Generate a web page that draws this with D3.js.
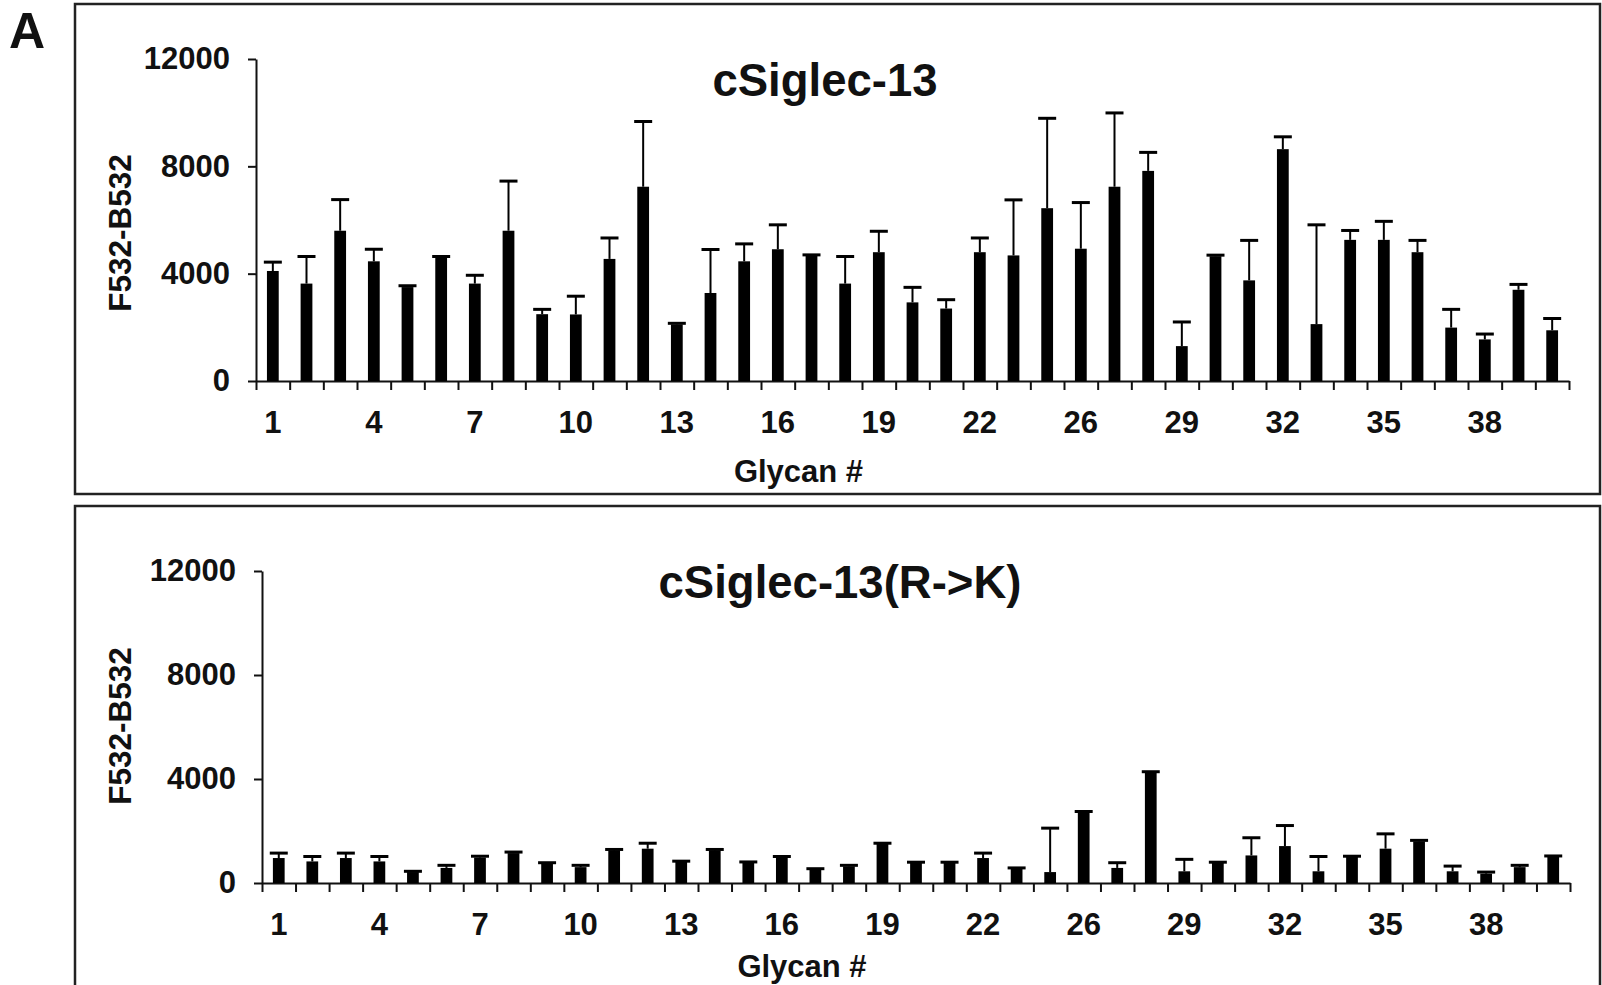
<!DOCTYPE html>
<meta charset="utf-8">
<style>
body { margin: 0; background: #fff; }
text { font-family: "Liberation Sans", Arial, Helvetica, sans-serif; font-weight: bold; fill: #111; }
.frame { fill: none; stroke: #222; stroke-width: 2.5; }
.axis path, .axis line { stroke: #111; stroke-width: 2; }
.axis text { font-size: 31px; }
.bar { fill: #000; }
.err { stroke: #000; stroke-width: 2; }
.cap { stroke: #000; stroke-width: 3; }
</style>
<body>
<script src="https://cdn.jsdelivr.net/npm/d3@7"></script>
<script>

var width = 1602,
    height = 985;

// glycan numbers on the array (no #25 on the slide)
var glycans = [1, 2, 3, 4, 5, 6, 7, 8, 9, 10, 11, 12, 13, 14, 15, 16, 17, 18, 19, 20,
               21, 22, 23, 24, 26, 27, 28, 29, 30, 31, 32, 33, 34, 35, 36, 37, 38, 39, 40];

var xTickLabels = [1, 4, 7, 10, 13, 16, 19, 22, 26, 29, 32, 35, 38];
var yTicks = [0, 4000, 8000, 12000];

// cSiglec-13 : mean and SD
var wtMean = [4100, 3630, 5600, 4460, 3500, 4590, 3630, 5600, 2490, 2480,
              4550, 7240, 2110, 3280, 4460, 4910, 4680, 3630, 4800, 2930,
              2700, 4800, 4680, 6440, 4930, 7240, 7830, 1300, 4650, 3750,
              8640, 2120, 5260, 5260, 4800, 1990, 1550, 3400, 1890];
var wtSD   = [330, 1010, 1160, 450, 50, 50, 310, 1850, 180, 680,
              780, 2430, 40, 1620, 650, 910, 20, 1010, 780, 560,
              330, 530, 2070, 3350, 1720, 2750, 690, 900, 40, 1490,
              460, 3700, 350, 690, 440, 680, 200, 200, 440];

// cSiglec-13(R->K) : mean and SD
var rkMean = [960, 830, 960, 830, 420, 580, 980, 1150, 740, 610,
              1250, 1320, 830, 1250, 800, 1000, 520, 640, 1500, 780,
              780, 960, 550, 420, 2710, 580, 4250, 450, 780, 1060,
              1420, 450, 1020, 1320, 1600, 450, 360, 610, 1020];
var rkSD   = [190, 190, 190, 190, 30, 100, 50, 40, 40, 70,
              40, 210, 10, 40, 10, 20, 30, 40, 30, 20,
              20, 190, 30, 1690, 40, 200, 30, 460, 20, 680,
              790, 570, 10, 570, 40, 200, 60, 70, 20];

var svg = d3.select("body").append("svg")
    .attr("width", width)
    .attr("height", height);

svg.append("text")
    .attr("x", 9)
    .attr("y", 48)
    .style("font-size", "50px")
    .text("A");

var panels = [
    { title: "cSiglec-13", mean: wtMean, sd: wtSD,
      box: [75, 4, 1600, 494], x0: 256, x1: 1569, yTop: 59, yZero: 381,
      titleX: 825, titleY: 96, xlabY: 482, yTitleX: 131, yTitleY: 233 },
    { title: "cSiglec-13(R->K)", mean: rkMean, sd: rkSD,
      box: [75, 506, 1600, 1010], x0: 262, x1: 1570, yTop: 571, yZero: 883,
      titleX: 840, titleY: 598, xlabY: 977, yTitleX: 131, yTitleY: 726 }
];

panels.forEach(function(p) {
    var g = svg.append("g");

    g.append("rect")
        .attr("class", "frame")
        .attr("x", p.box[0])
        .attr("y", p.box[1])
        .attr("width", p.box[2] - p.box[0])
        .attr("height", p.box[3] - p.box[1]);

    var x = d3.scaleBand()
        .domain(glycans)
        .range([p.x0, p.x1])
        .paddingInner(0.65)
        .paddingOuter(0.325);

    // ticks sit between the bars
    var xEdge = d3.scaleLinear()
        .domain([0, glycans.length])
        .range([p.x0, p.x1]);

    var y = d3.scaleLinear()
        .domain([0, 12000])
        .range([p.yZero, p.yTop]);

    g.append("g")
        .attr("class", "axis")
        .attr("transform", "translate(" + p.x0 + ",0)")
        .call(d3.axisLeft(y).tickValues(yTicks).tickFormat(d3.format("d"))
            .tickSize(8).tickSizeOuter(0).tickPadding(18));

    g.append("g")
        .attr("class", "axis")
        .attr("transform", "translate(0," + p.yZero + ")")
        .call(d3.axisBottom(xEdge).tickValues(d3.range(0, glycans.length + 1)).tickSize(9).tickSizeOuter(0).tickFormat(""));

    var xl = g.append("g")
        .attr("class", "axis")
        .attr("transform", "translate(0," + p.yZero + ")")
        .call(d3.axisBottom(x).tickValues(xTickLabels).tickSize(0).tickPadding(30));
    xl.select(".domain").remove();

    var rows = glycans.map(function(d, i) { return { g: d, m: p.mean[i], s: p.sd[i] }; });

    g.append("g")
        .selectAll("rect")
        .data(rows)
        .enter()
        .append("rect")
        .attr("class", "bar")
        .attr("x", function(d) { return x(d.g); })
        .attr("width", x.bandwidth())
        .attr("y", function(d) { return y(d.m); })
        .attr("height", function(d) { return y(0) - y(d.m); });

    var eb = g.append("g")
        .selectAll("g")
        .data(rows)
        .enter()
        .append("g")
        .attr("transform", function(d) { return "translate(" + (x(d.g) + x.bandwidth() / 2) + ",0)"; });

    eb.append("line")
        .attr("class", "err")
        .attr("y1", function(d) { return y(d.m); })
        .attr("y2", function(d) { return y(d.m + d.s); });

    eb.append("line")
        .attr("class", "cap")
        .attr("x1", -9)
        .attr("x2", 9)
        .attr("y1", function(d) { return y(d.m + d.s); })
        .attr("y2", function(d) { return y(d.m + d.s); });

    g.append("text")
        .attr("x", p.titleX)
        .attr("y", p.titleY)
        .attr("text-anchor", "middle")
        .style("font-size", "45.5px")
        .text(p.title);

    g.append("text")
        .attr("x", (p.x0 + p.x1) / 2 - 114)
        .attr("y", p.xlabY)
        .attr("text-anchor", "middle")
        .style("font-size", "31px")
        .text("Glycan #");

    g.append("text")
        .attr("transform", "translate(" + p.yTitleX + "," + p.yTitleY + ") rotate(-90)")
        .attr("text-anchor", "middle")
        .style("font-size", "31.5px")
        .text("F532-B532");
});

</script>
